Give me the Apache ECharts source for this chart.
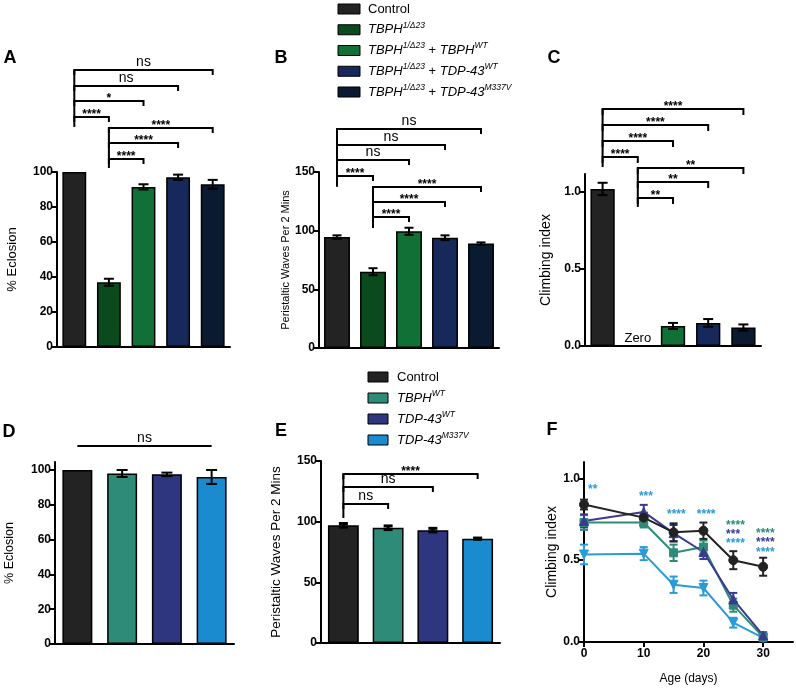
<!DOCTYPE html>
<html><head><meta charset="utf-8">
<script src="https://cdn.jsdelivr.net/npm/echarts@6/dist/echarts.min.js"></script>
<style>html,body{margin:0;padding:0;background:#fff}#c{width:796px;height:691px}</style>
</head><body><div id="c"></div>
<script>
// ---------------- DATA ----------------
const catsTop = ['Control', 'TBPH1/Δ23', 'TBPH1/Δ23 + TBPHWT', 'TBPH1/Δ23 + TDP-43WT', 'TBPH1/Δ23 + TDP-43M337V'];
const colorsTop = ['#232323', '#0a4a1c', '#107035', '#17295a', '#0a1a30'];
const eclosionA = [100, 37, 91.5, 97, 93];
const eclosionAErr = [0, 2, 1.5, 1.5, 2.5];
const wavesB = [94.5, 65, 99.5, 94, 89];
const wavesBErr = [1.5, 3, 3, 2, 1];
const climbC = [1.02, 0, 0.13, 0.15, 0.12];
const climbCErr = [0.04, 0, 0.02, 0.025, 0.02];

const catsBottom = ['Control', 'TBPHWT', 'TDP-43WT', 'TDP-43M337V'];
const colorsBottom = ['#232323', '#2e8b78', '#2d367f', '#1b8bd0'];
const eclosionD = [100, 98, 97.5, 96];
const eclosionDErr = [0, 2, 1, 4];
const wavesE = [97, 95, 93, 86];
const wavesEErr = [1.5, 1.5, 1.5, 0.5];

const ageDays = [0, 10, 15, 20, 25, 30];
const climbF_Control = [0.84, 0.76, 0.67, 0.68, 0.50, 0.46];
const climbF_ControlErr = [0.03, 0.03, 0.055, 0.05, 0.055, 0.055];
const climbF_TBPH = [0.73, 0.73, 0.545, 0.58, 0.225, 0.03];
const climbF_TBPHErr = [0.045, 0.03, 0.05, 0.04, 0.04, 0.02];
const climbF_TDP43WT = [0.74, 0.795, 0.665, 0.55, 0.26, 0.04];
const climbF_TDP43WTErr = [0.04, 0.043, 0.05, 0.043, 0.04, 0.02];
const climbF_M337V = [0.535, 0.54, 0.35, 0.33, 0.118, 0.025];
const climbF_M337VErr = [0.06, 0.04, 0.05, 0.045, 0.03, 0.02];
const colorsF = ['#222222', '#2e8b78', '#3a3a8f', '#2a9bd8'];

// significance brackets: [fromIndex, toIndex, level]
const sigA = [[0,4,158.3],[0,3,149.1],[0,2,140.6],[0,1,131.4],[1,4,125.1],[1,3,116.6],[1,2,107.4]];
const sigALabels = ['ns','ns','*','****','****','****','****'];
const stemsA = [[0,158.3,125.7],[1,125.1,102.3]];
const sigB = [[0,4,186.6],[0,3,173],[0,2,160.2],[0,1,146.6],[1,4,137.2],[1,3,124.4],[1,2,111.6]];
const sigBLabels = ['ns','ns','ns','****','****','****','****'];
const stemsB = [[0,186.6,137.5],[1,137.2,102.3]];
const sigC = [[0,4,1.539],[0,3,1.435],[0,2,1.331],[0,1,1.227],[1,4,1.156],[1,3,1.065],[1,2,0.961]];
const sigCLabels = ['****','****','****','****','**','**','**'];
const stemsC = [[0,1.539,1.162],[1,1.156,0.903]];
const sigD = [[0,3,113.8]];
const sigDLabels = ['ns'];
const sigE = [[0,3,139.3],[0,2,128.6],[0,1,114.6]];
const sigELabels = ['****','ns','ns'];
const stemsE = [[0,139.3,103]];
// F asterisks: [x(day, left edge), y(level)]
const sigF = [[0.67,0.951],[9.2,0.907],[13.9,0.795],[18.9,0.795],[23.8,0.727],[23.8,0.673],[23.8,0.618],[28.8,0.679],[28.8,0.626],[28.8,0.567]];
const sigFLabels = ['**','***','****','****','****','***','****','****','****','****'];
const sigFColors = [3,3,3,3,1,2,3,1,2,3];

// legends: tokens [style, text]
const legendTop = [
  [['r','Control']],
  [['i','TBPH'],['s','1/Δ23']],
  [['i','TBPH'],['s','1/Δ23'],['r',' + '],['i','TBPH'],['s','WT']],
  [['i','TBPH'],['s','1/Δ23'],['r',' + '],['i','TDP-43'],['s','WT']],
  [['i','TBPH'],['s','1/Δ23'],['r',' + '],['i','TDP-43'],['s','M337V']]
];
const legendBottom = [
  [['r','Control']],
  [['i','TBPH'],['s','WT']],
  [['i','TDP-43'],['s','WT']],
  [['i','TDP-43'],['s','M337V']]
];

// ---------------- CHART ----------------
const FONT = "'Liberation Sans', Arial, Helvetica, sans-serif";
const chart = echarts.init(document.getElementById('c'));

const grids = [
  {left:57, top:172, width:173, height:175},
  {left:319, top:172, width:180, height:176},
  {left:585, top:174, width:176, height:172},
  {left:55, top:462, width:179, height:182},
  {left:321, top:461, width:179, height:182},
  {left:584, top:462, width:209, height:180}
];

function catX(gi, cats){
  return {type:'category', gridIndex:gi, data:cats,
    axisLine:{show:true, onZero:false, lineStyle:{color:'#000', width:2}},
    axisTick:{show:false}, axisLabel:{show:false}, splitLine:{show:false}};
}
function yAx(gi, max, ticks, name, nameSize, nameGap, dec){
  return {type:'value', gridIndex:gi, min:0, max:max,
    axisLine:{show:true, lineStyle:{color:'#000', width:2}},
    axisTick:{show:true, inside:false, length:5, lineStyle:{color:'#000', width:2}, customValues:ticks},
    axisLabel:{show:true, customValues:ticks, color:'#000', fontWeight:'bold', fontSize:12, fontFamily:FONT, margin:4,
      formatter: v => dec ? Number(v).toFixed(1) : String(Math.round(v))},
    splitLine:{show:false},
    name:name, nameLocation:'middle', nameGap:nameGap, nameRotate:90,
    nameTextStyle:{fontSize:nameSize, color:'#000', fontFamily:FONT}};
}
function barS(gi, vals, colors, bw, extra){
  return {type:'bar', xAxisIndex:gi, yAxisIndex:gi, barWidth:bw, z:2,
    data: vals.map((v,i)=>Object.assign({value:v, itemStyle:{color:colors[i], borderColor:'#000', borderWidth:1.5}}, (extra && extra[i]) || {}))};
}
function errS(gi, xs, vals, errs, color, capW, lw, z){
  const data = vals.map((v,i)=>[xs[i], v, errs[i]]);
  return {type:'custom', xAxisIndex:gi, yAxisIndex:gi, clip:false, silent:true, z:z || 4,
    encode:{x:0, y:1}, data:data,
    renderItem(params, api){
      const x = api.value(0), v = api.value(1), e = api.value(2);
      if (!e) return {type:'group', children:[]};
      const t = api.coord([x, v+e]), b = api.coord([x, v-e]);
      const st = {stroke:color, lineWidth:lw};
      return {type:'group', children:[
        {type:'line', shape:{x1:t[0], y1:t[1], x2:b[0], y2:b[1]}, style:st},
        {type:'line', shape:{x1:t[0]-capW/2, y1:t[1], x2:t[0]+capW/2, y2:t[1]}, style:st},
        {type:'line', shape:{x1:b[0]-capW/2, y1:b[1], x2:b[0]+capW/2, y2:b[1]}, style:st}
      ]};
    }};
}
function sigS(gi, br, labels, tick){
  return {type:'custom', xAxisIndex:gi, yAxisIndex:gi, clip:false, silent:true, z:6,
    encode:{x:0, y:2}, data:br,
    renderItem(params, api){
      const a = api.coord([api.value(0), api.value(2)]);
      const b = api.coord([api.value(1), api.value(2)]);
      const lab = labels[params.dataIndex];
      const star = lab.indexOf('*') >= 0;
      const pts = tick ? [[a[0], a[1]+tick],[a[0], a[1]],[b[0], b[1]],[b[0], b[1]+tick]] : [[a[0],a[1]],[b[0],b[1]]];
      return {type:'group', children:[
        {type:'polyline', shape:{points:pts}, style:{stroke:'#000', lineWidth:2, fill:null}},
        {type:'text', style:{text:lab, x:(a[0]+b[0])/2, y: star ? a[1]-2 : a[1]-0.5,
          align:'center', verticalAlign: star ? 'middle' : 'bottom',
          textAlign:'center', textVerticalAlign: star ? 'middle' : 'bottom',
          fontSize: star ? 12 : 14, fontWeight: star ? 'bold' : 'normal', fontFamily:FONT, fill:'#000'}}
      ]};
    }};
}
function stemS(gi, stems){
  return {type:'custom', xAxisIndex:gi, yAxisIndex:gi, clip:false, silent:true, z:6,
    encode:{x:0, y:1}, data:stems,
    renderItem(params, api){
      const t = api.coord([api.value(0), api.value(1)]), b = api.coord([api.value(0), api.value(2)]);
      return {type:'line', shape:{x1:t[0], y1:t[1], x2:b[0], y2:b[1]}, style:{stroke:'#000', lineWidth:2}};
    }};
}
function lineF(name, vals, color, symbol, size){
  return {type:'line', name:name, xAxisIndex:5, yAxisIndex:5, data: vals.map((v,i)=>[ageDays[i], v]),
    symbol:symbol, symbolSize:size, showSymbol:true, z:5,
    lineStyle:{color:color, width:2}, itemStyle:{color:color, borderColor:color}};
}
const invTri = 'path://M0,0 L10,0 L5,9 Z';

const series = [
  barS(0, eclosionA, colorsTop, '69%'),
  errS(0, [0,1,2,3,4], eclosionA, eclosionAErr, '#000', 10, 2),
  sigS(0, sigA, sigALabels, 5), stemS(0, stemsA),
  barS(1, wavesB, colorsTop, '72%'),
  errS(1, [0,1,2,3,4], wavesB, wavesBErr, '#000', 9, 2),
  sigS(1, sigB, sigBLabels, 5), stemS(1, stemsB),
  barS(2, climbC, colorsTop, '69%', [null, {label:{show:true, position:'top', distance:0, formatter:'Zero', color:'#000', fontSize:13, fontFamily:FONT}}]),
  errS(2, [0,1,2,3,4], climbC, climbCErr, '#000', 10, 2),
  sigS(2, sigC, sigCLabels, 6), stemS(2, stemsC),
  barS(3, eclosionD, colorsBottom, '67%'),
  errS(3, [0,1,2,3], eclosionD, eclosionDErr, '#000', 11, 2),
  sigS(3, sigD, sigDLabels, 0),
  barS(4, wavesE, colorsBottom, '69%'),
  errS(4, [0,1,2,3], wavesE, wavesEErr, '#000', 9, 3),
  sigS(4, sigE, sigELabels, 5), stemS(4, stemsE),
  lineF('TDP-43M337V', climbF_M337V, colorsF[3], invTri, 9),
  errS(5, ageDays, climbF_M337V, climbF_M337VErr, colorsF[3], 8, 2, 5),
  lineF('TBPHWT', climbF_TBPH, colorsF[1], 'rect', 8),
  errS(5, ageDays, climbF_TBPH, climbF_TBPHErr, colorsF[1], 8, 2, 5),
  lineF('TDP-43WT', climbF_TDP43WT, colorsF[2], 'triangle', 9),
  errS(5, ageDays, climbF_TDP43WT, climbF_TDP43WTErr, colorsF[2], 8, 2, 5),
  lineF('Control', climbF_Control, colorsF[0], 'circle', 9),
  errS(5, ageDays, climbF_Control, climbF_ControlErr, colorsF[0], 8, 2, 5),
  {type:'custom', xAxisIndex:5, yAxisIndex:5, clip:false, silent:true, z:7, encode:{x:0, y:1}, data:sigF,
    renderItem(params, api){
      const p = api.coord([api.value(0), api.value(1)]);
      return {type:'text', style:{text:sigFLabels[params.dataIndex], x:p[0], y:p[1]+3,
        align:'left', verticalAlign:'middle', textAlign:'left', textVerticalAlign:'middle',
        fontSize:12, fontWeight:'bold', fontFamily:FONT, fill:colorsF[sigFColors[params.dataIndex]]}};
    }}
];

const rich = {
  r:{fontSize:13, fontFamily:FONT, fill:'#000', color:'#000', lineHeight:18},
  i:{fontSize:13, fontStyle:'italic', fontFamily:FONT, fill:'#000', color:'#000', lineHeight:18},
  s:{fontSize:8.5, fontStyle:'italic', fontFamily:FONT, fill:'#000', color:'#000', lineHeight:15, verticalAlign:'top'}
};
function legendGraphics(items, colors, bx, bw, tx, y0, dy){
  const g = [];
  items.forEach((toks, k) => {
    const y = y0 + k*dy;
    g.push({type:'rect', shape:{x:bx, y:y-5, width:bw, height:10}, style:{fill:colors[k], stroke:'#000', lineWidth:1}});
    g.push({type:'text', x:tx, y:y, style:{text: toks.map(t => '{' + t[0] + '|' + t[1] + '}').join(''), rich:rich,
      align:'left', verticalAlign:'middle', textAlign:'left', textVerticalAlign:'middle', fill:'#000'}});
  });
  return g;
}
const panelLabels = [['A',10,58.5],['B',281,58.5],['C',554,58.5],['D',9,432],['E',281,431],['F',552,430]];

const graphic = [].concat(
  legendGraphics(legendTop, colorsTop, 338, 22, 368, 9, 20.75),
  legendGraphics(legendBottom, colorsBottom, 368, 20, 397, 377, 21),
  panelLabels.map(p => ({type:'text', x:p[1], y:p[2], style:{text:p[0], fontSize:18, fontWeight:'bold', fontFamily:FONT, fill:'#000',
    align:'center', verticalAlign:'middle', textAlign:'center', textVerticalAlign:'middle'}}))
);

const option = {
  animation:false,
  backgroundColor:'#fff',
  textStyle:{fontFamily:FONT},
  grid: grids.map(g => Object.assign({containLabel:false, outerBoundsMode:'none'}, g)),
  xAxis: [
    catX(0, catsTop), catX(1, catsTop), catX(2, catsTop), catX(3, catsBottom), catX(4, catsBottom),
    {type:'value', gridIndex:5, min:0, max:35,
      axisLine:{show:true, onZero:false, lineStyle:{color:'#000', width:2}},
      axisTick:{show:true, length:5, lineStyle:{color:'#000', width:2}, customValues:[0,10,20,30]},
      axisLabel:{show:true, customValues:[0,10,20,30], color:'#000', fontWeight:'bold', fontSize:12, fontFamily:FONT, margin:6},
      splitLine:{show:false},
      name:'Age (days)', nameLocation:'middle', nameGap:31, nameTextStyle:{fontSize:12, color:'#000', fontFamily:FONT}}
  ],
  yAxis: [
    yAx(0, 100, [0,20,40,60,80,100], '% Eclosion', 13, 38, false),
    yAx(1, 150, [0,50,100,150], 'Peristaltic Waves Per 2 Mins', 11, 26, false),
    yAx(2, 1.117, [0,0.5,1], 'Climbing index', 14, 32, true),
    yAx(3, 104.6, [0,20,40,60,80,100], '% Eclosion', 12.5, 39, false),
    yAx(4, 150, [0,50,100,150], 'Peristaltic Waves Per 2 Mins', 13.5, 38, false),
    yAx(5, 1.1, [0,0.5,1], 'Climbing index', 14, 25, true)
  ],
  series: series,
  graphic: graphic
};
chart.setOption(option);
</script>
</body></html>
